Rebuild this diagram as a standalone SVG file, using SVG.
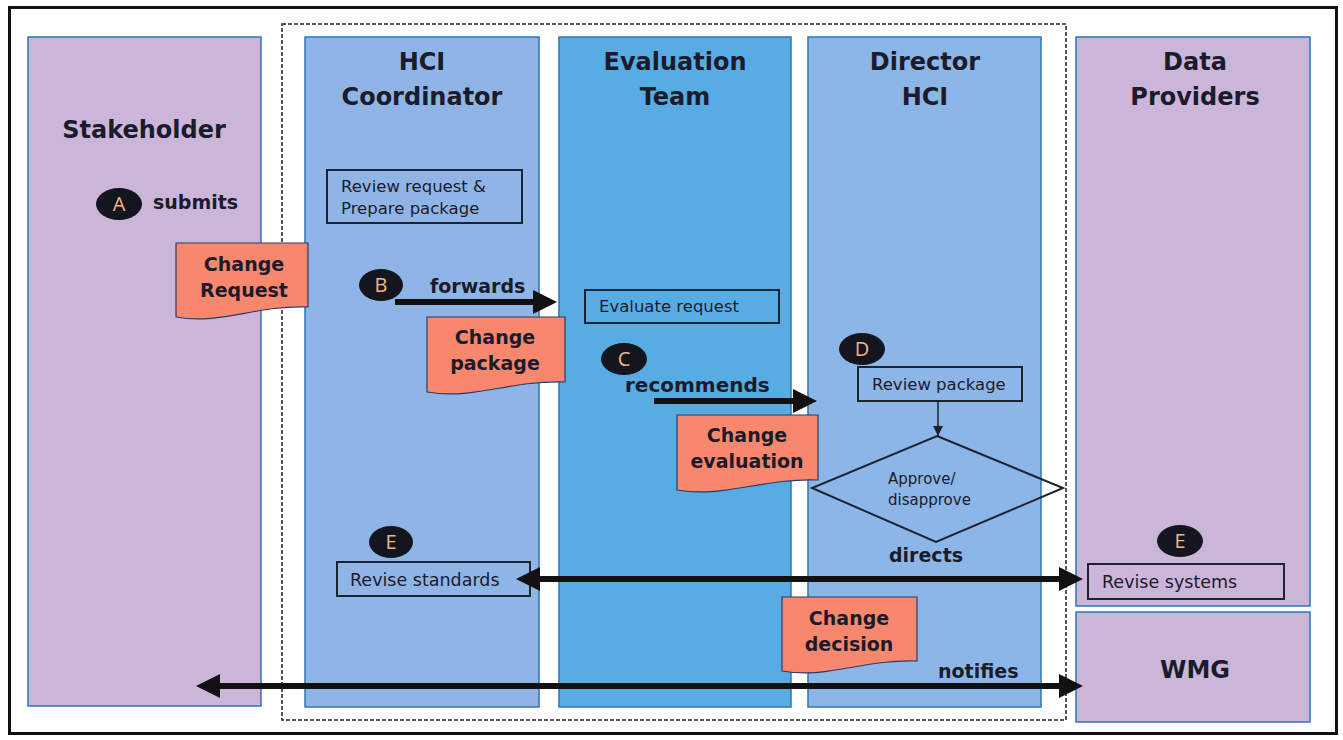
<svg xmlns="http://www.w3.org/2000/svg" width="1343" height="740" viewBox="0 0 1343 740">
<style>
.lane{stroke:#2e75b6;stroke-width:1.5}
.lav{fill:#cbb6da}
.hci{fill:#8fb5e6}
.eval{fill:#57ade3}
.dir{fill:#8db6e8}
.title{font-family:"DejaVu Sans",sans-serif;font-weight:bold;font-size:24px;fill:#1b1b2b;text-anchor:middle}
.box{fill:none;stroke:#1b2230;stroke-width:2}
.bt{font-family:"DejaVu Sans",sans-serif;font-size:16.5px;fill:#1b1b2b}
.bt2{font-family:"DejaVu Sans",sans-serif;font-size:17.5px;fill:#1b1b2b}
.dmt{font-family:"DejaVu Sans",sans-serif;font-size:15px;fill:#1b1b2b}
.lbl{font-family:"DejaVu Sans",sans-serif;font-weight:bold;font-size:19px;fill:#1b1b2b}
.doc{fill:#f7876d;stroke:#2a3a66;stroke-width:1.2}
.dt{font-family:"DejaVu Sans",sans-serif;font-weight:bold;font-size:19px;fill:#1b1b2b;text-anchor:middle}
.badge{fill:#14161f}
.bl{font-family:"Open Sans",sans-serif;font-size:20px;fill:#f6b48a;text-anchor:middle}
.thick{stroke:#111;stroke-width:6;fill:none}
</style>
<defs>
<marker id="ah" markerUnits="userSpaceOnUse" markerWidth="26" markerHeight="26" refX="10" refY="12" orient="auto-start-reverse" viewBox="0 0 26 26">
<path d="M0 0 L24 12 L0 24 Z" fill="#111"/>
</marker>
<marker id="sh" markerUnits="userSpaceOnUse" markerWidth="12" markerHeight="12" refX="10" refY="5" orient="auto" viewBox="0 0 12 12">
<path d="M0 0 L10 5 L0 10 Z" fill="#1b2230"/>
</marker>
</defs>
<rect x="0" y="0" width="1343" height="740" fill="#ffffff"/>
<rect x="9.5" y="7.5" width="1327" height="726" fill="none" stroke="#111" stroke-width="3"/>

<g id="lane-stakeholder">
<rect class="lane lav" x="28" y="37" width="233" height="669"/>
<text class="title" x="144" y="138">Stakeholder</text>
</g>
<g id="dashed-boundary">
<rect x="282" y="24" width="784" height="696" fill="none" stroke="#222" stroke-width="1.5" stroke-dasharray="4,2"/>
</g>
<g id="lane-hci">
<rect class="lane hci" x="305" y="37" width="234" height="670"/>
<text class="title" x="422" y="70">HCI</text>
<text class="title" x="422" y="105">Coordinator</text>
</g>
<g id="lane-eval">
<rect class="lane eval" x="559" y="37" width="232" height="670"/>
<text class="title" x="675" y="70">Evaluation</text>
<text class="title" x="675" y="105">Team</text>
</g>
<g id="lane-director">
<rect class="lane dir" x="808" y="37" width="233" height="670"/>
<text class="title" x="925" y="70">Director</text>
<text class="title" x="925" y="105">HCI</text>
</g>
<g id="lane-data">
<rect class="lane lav" x="1076" y="37" width="234" height="569"/>
<text class="title" x="1195" y="70">Data</text>
<text class="title" x="1195" y="105">Providers</text>
</g>
<g id="lane-wmg">
<rect class="lane lav" x="1076" y="612" width="234" height="110"/>
<text class="title" x="1195" y="678">WMG</text>
</g>

<g id="review-request">
<rect class="box" x="327" y="170" width="195" height="53"/>
<text class="bt" x="341" y="192">Review request &amp;</text>
<text class="bt" x="341" y="214">Prepare package</text>
</g>
<g id="evaluate-request">
<rect class="box" x="585" y="290" width="194" height="33"/>
<text class="bt" x="599" y="312">Evaluate request</text>
</g>
<g id="review-package">
<rect class="box" x="858" y="367" width="164" height="34"/>
<text class="bt" x="872" y="390">Review package</text>
</g>
<g id="decision">
<path class="box" d="M937 436 L1063 488 L936 542 L812 488 Z"/>
<text class="dmt" x="888" y="484">Approve/</text>
<text class="dmt" x="888" y="505">disapprove</text>
</g>
<g id="revise-standards">
<rect class="box" x="337" y="562" width="193" height="34"/>
<text class="bt2" x="350" y="586">Revise standards</text>
</g>
<g id="revise-systems">
<rect class="box" x="1088" y="564" width="196" height="35"/>
<text class="bt2" x="1102" y="588">Revise systems</text>
</g>

<g id="doc-change-request">
<path class="doc" d="M176 243 H308 V307 C255 305 222 325 176 317 Z"/>
<text class="dt" x="244" y="271">Change</text>
<text class="dt" x="244" y="297">Request</text>
</g>
<g id="doc-change-package">
<path class="doc" d="M427 317 H565 V382 C510 380 475 400 427 392 Z"/>
<text class="dt" x="495" y="344">Change</text>
<text class="dt" x="495" y="370">package</text>
</g>
<g id="doc-change-evaluation">
<path class="doc" d="M677 415 H818 V480 C762 478 726 498 677 490 Z"/>
<text class="dt" x="747" y="442">Change</text>
<text class="dt" x="747" y="468">evaluation</text>
</g>
<g id="doc-change-decision">
<path class="doc" d="M782 597 H917 V661 C863 659 829 679 782 671 Z"/>
<text class="dt" x="849" y="625">Change</text>
<text class="dt" x="849" y="651">decision</text>
</g>

<g id="badge-a">
<ellipse class="badge" cx="119" cy="204" rx="23" ry="16"/>
<text class="bl" x="119" y="211">A</text>
</g>
<g id="badge-b">
<ellipse class="badge" cx="381" cy="285" rx="22" ry="16"/>
<text class="bl" x="381" y="292">B</text>
</g>
<g id="badge-c">
<ellipse class="badge" cx="624" cy="359" rx="23" ry="16"/>
<text class="bl" x="624" y="366">C</text>
</g>
<g id="badge-d">
<ellipse class="badge" cx="862" cy="349" rx="23" ry="16"/>
<text class="bl" x="862" y="356">D</text>
</g>
<g id="badge-e1">
<ellipse class="badge" cx="391" cy="542" rx="22" ry="16"/>
<text class="bl" x="391" y="549">E</text>
</g>
<g id="badge-e2">
<ellipse class="badge" cx="1180" cy="541" rx="23" ry="16"/>
<text class="bl" x="1180" y="548">E</text>
</g>

<g id="connectors">
<line class="thick" x1="395" y1="302" x2="543" y2="302" marker-end="url(#ah)"/>
<line class="thick" x1="654" y1="401" x2="803" y2="401" marker-end="url(#ah)"/>
<line class="thick" x1="530" y1="579" x2="1069" y2="579" marker-start="url(#ah)" marker-end="url(#ah)"/>
<line class="thick" x1="210" y1="686" x2="1069" y2="686" marker-start="url(#ah)" marker-end="url(#ah)"/>
<line x1="938" y1="401" x2="938" y2="436" stroke="#1b2230" stroke-width="1.5" marker-end="url(#sh)"/>
<text class="lbl" x="153" y="209">submits</text>
<text class="lbl" x="430" y="293">forwards</text>
<text class="lbl" x="625" y="392" style="font-size:20px">recommends</text>
<text class="lbl" x="889" y="562">directs</text>
<text class="lbl" x="938" y="678">notifies</text>
</g>
</svg>
